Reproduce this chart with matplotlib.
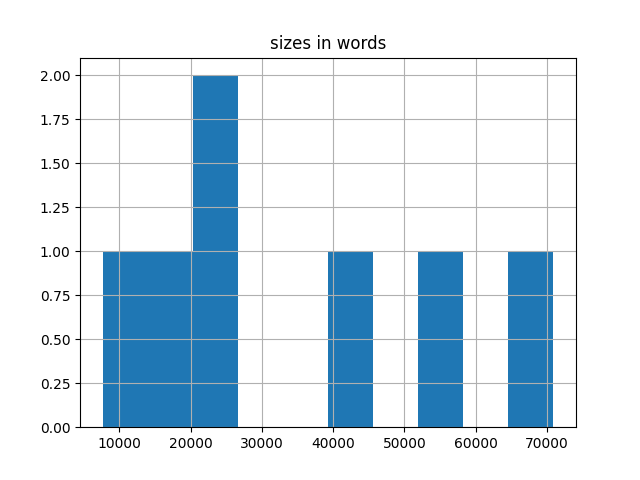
import matplotlib
matplotlib.use("Agg")
import matplotlib.pyplot as plt
import pandas as pd

sizes = [7650, 15500, 22000, 24500, 42000, 55000, 70900]
df = pd.DataFrame({"sizes in words": sizes})

fig = plt.figure(figsize=(6.4, 4.8), dpi=100)
ax = fig.add_subplot(111)
df.hist(column="sizes in words", bins=10, ax=ax)
fig.savefig("out.png")
